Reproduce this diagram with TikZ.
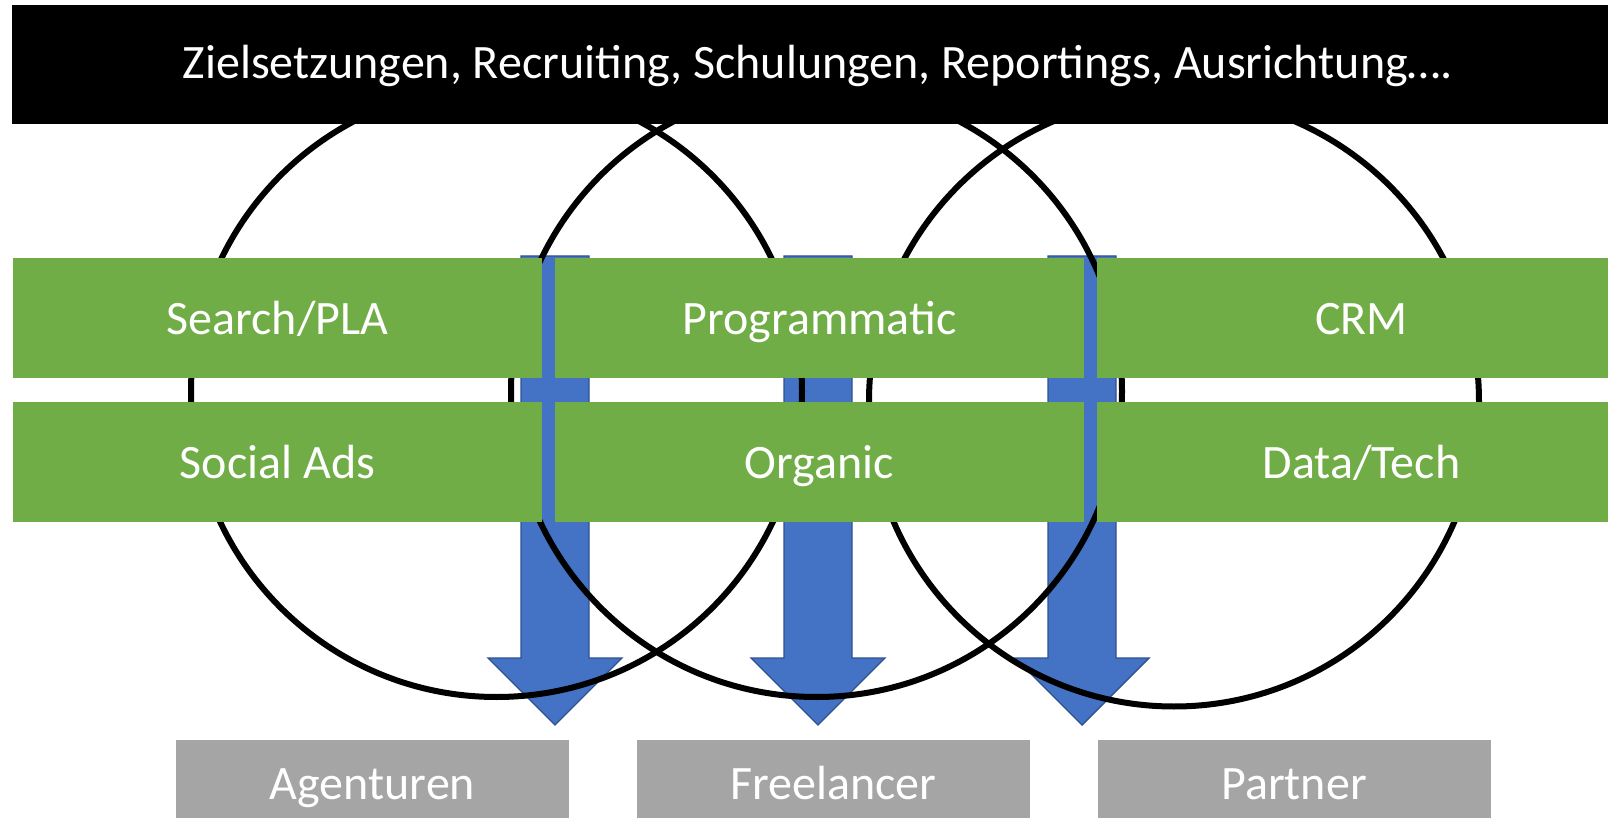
\documentclass[tikz,border=0pt]{standalone}
\usepackage{fontspec}
\setmainfont{Carlito}
\definecolor{ggreen}{HTML}{70AD47}
\definecolor{bblue}{HTML}{4472C4}
\definecolor{bborder}{HTML}{2F528F}
\definecolor{ggray}{HTML}{A5A5A5}
\tikzset{
  lbl/.style={text=white,font=\fontsize{24}{28}\selectfont,inner sep=0pt},
  boxtext/.style={lbl,text height=17pt,text depth=3pt},
  greenbox/.style={fill=ggreen,draw=none,minimum width=264.5pt,minimum height=60pt,lbl,text height=20pt,text depth=3pt},
  graybox/.style={fill=ggray,draw=none,minimum width=196.5pt,minimum height=45pt,boxtext},
  topbar/.style={fill=black,draw=none,minimum width=804pt,minimum height=59.5pt,inner sep=0pt},
  blockarrow/.style={fill=bblue,draw=bborder,line width=0.7pt},
  ring/.style={draw=black,line width=3pt}
}
\begin{document}
\begin{tikzpicture}[x=0.5pt,y=-0.5pt]
\useasboundingbox (0,0) rectangle (1608,818);
% arrows
\foreach \c in {555,818,1082}{
  \filldraw[blockarrow] (\c-34,256) -- (\c+34,256) -- (\c+34,658) -- (\c+67,658)
    -- (\c,725) -- (\c-67,658) -- (\c-34,658) -- cycle;
}
% circles
\draw[ring] (496.5,391.5) circle [radius=305.5];
\draw[ring] (816.5,391.5) circle [radius=305.5];
\draw[ring] (1174,401.5) circle [radius=305];
% green boxes
\node[greenbox] (sp) at (277.5,318) {Search/PLA};
\node[greenbox] (pr) at (819.5,318) {Programmatic};
\node[greenbox] (crm) at (1361.5,318) {CRM};
\node[greenbox] (sa) at (277.5,462) {Social Ads};
\node[greenbox] (or) at (819.5,462) {Organic};
\node[greenbox] (dt) at (1361.5,462) {Data/Tech};
% top bar
\node[topbar] (bar) at (816,64.5) {};
\node[lbl,anchor=base] (toptext) at (818,79) {Zielsetzungen, Recruiting, Schulungen, Reportings, Ausrichtung….};
% gray boxes
\node[graybox] (ag) at (372.5,785) {Agenturen};
\node[graybox] (fr) at (833.5,785) {Freelancer};
\node[graybox] (pa) at (1294,785) {Partner};
\end{tikzpicture}
\end{document}
